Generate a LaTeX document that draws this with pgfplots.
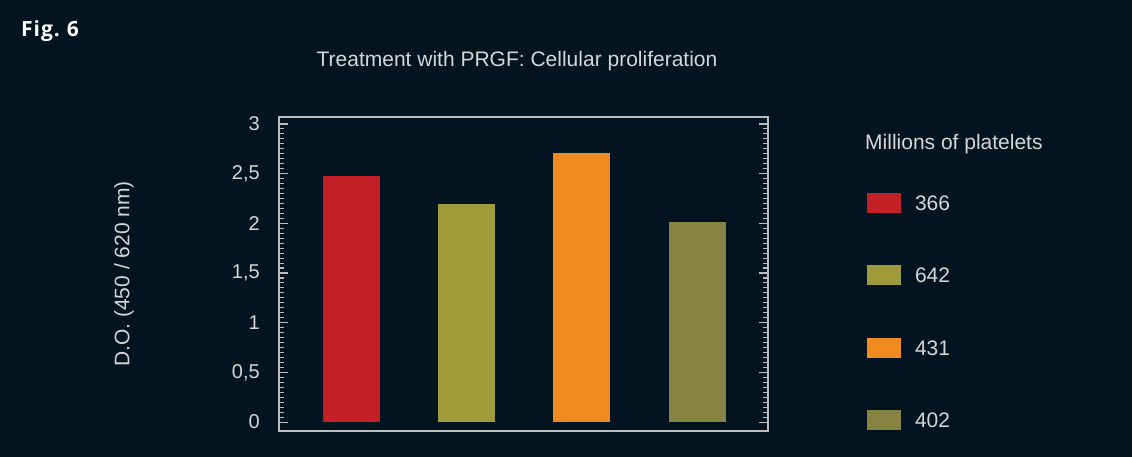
\documentclass[border=0pt]{standalone}
\usepackage{fontspec}
\setmainfont{Liberation Sans}
\newfontfamily\figfont{Open Sans}
\usepackage{pgfplots}
\pgfplotsset{compat=1.18}
\definecolor{bg}{HTML}{02141F}
\definecolor{axisgray}{HTML}{BDBDBD}
\definecolor{labelgray}{HTML}{D6D6D6}
\definecolor{barred}{HTML}{C31F26}
\definecolor{barolive}{HTML}{A09B3A}
\definecolor{barorange}{HTML}{F18B1F}
\definecolor{barolivedk}{HTML}{888343}
\begin{document}
\begin{tikzpicture}
\fill[bg] (0,0) rectangle (1132bp,457bp);
\path[use as bounding box] (0,0) rectangle (1132bp,457bp);
\begin{axis}[
  at={(279bp,26bp)}, anchor=south west,
  scale only axis, width=489bp, height=314bp,
  xmin=-0.63, xmax=3.615, ymin=-0.09, ymax=3.07,
  xtick=\empty,
  ytick={0,0.5,1,1.5,2,2.5,3},
  yticklabels={0,{0,5},1,{1,5},2,{2,5},3},
  minor y tick num=9,
  tick align=inside, tick pos=both,
  major tick length=9bp, minor tick length=5bp,
  axis line style={draw=axisgray, line width=1.5bp},
  every tick/.style={draw=axisgray, line width=1.1bp},
  yticklabel style={font=\fontsize{20bp}{24bp}\selectfont, text=labelgray, inner sep=0pt, anchor=east, xshift=-19bp},
  ylabel={D.O. (450 / 620 nm)},
  ylabel style={at={(axis description cs:-0.317,0.5)}, anchor=center, font=\fontsize{21bp}{25bp}\selectfont, text=labelgray},
  legend image code/.code={\fill (0bp,-10bp) rectangle (34bp,10bp);},
  legend style={at={(axis description cs:1.2025,0.758)}, anchor=north west,
    draw=none, fill=none, text=labelgray, font=\fontsize{21bp}{25bp}\selectfont,
    inner sep=0pt, outer sep=0pt, row sep=52.3bp,
    nodes={inner sep=0pt, text height=15bp, text depth=0pt},
    cells={anchor=west},
    /tikz/every odd column/.append style={column sep=14bp}},
]
\addplot[ybar, bar width=57bp, fill=barred, draw=none] coordinates {(0,2.48)};
\addlegendentry{366}
\addplot[ybar, bar width=57bp, fill=barolive, draw=none] coordinates {(1,2.195)};
\addlegendentry{642}
\addplot[ybar, bar width=57bp, fill=barorange, draw=none] coordinates {(2,2.71)};
\addlegendentry{431}
\addplot[ybar, bar width=57bp, fill=barolivedk, draw=none] coordinates {(3,2.01)};
\addlegendentry{402}
\end{axis}
\node[anchor=base, inner sep=0pt, text=labelgray, font=\fontsize{21bp}{25bp}\selectfont] at (517bp,390.3bp) {Treatment with PRGF: Cellular proliferation};
\node[anchor=base west, inner sep=0pt, text=labelgray, font=\fontsize{21bp}{25bp}\selectfont] at (865bp,307bp) {Millions of platelets};
\node[anchor=base west, inner sep=0pt, text=white, font=\figfont\bfseries\fontsize{21bp}{25bp}\selectfont] at (21bp,420bp) {F\kern1bp i\kern1bp g\kern1bp .\kern7bp 6};
\end{tikzpicture}
\end{document}
